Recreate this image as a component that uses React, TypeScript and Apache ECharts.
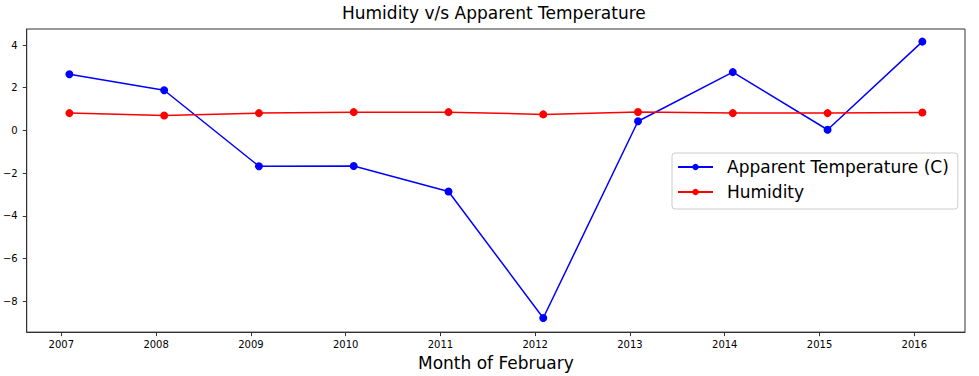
import React, { useEffect, useRef } from "react";
import * as echarts from "echarts";

const years = [2007, 2008, 2009, 2010, 2011, 2012, 2013, 2014, 2015, 2016];
const apparentTemp = [2.63, 1.88, -1.68, -1.67, -2.86, -8.79, 0.43, 2.73, 0.03, 4.16];
const humidity = [0.81, 0.7, 0.81, 0.855, 0.855, 0.75, 0.86, 0.81, 0.81, 0.84];
const xTicks = [2007, 2008, 2009, 2010, 2011, 2012, 2013, 2014, 2015, 2016];
const yTicks = [-8, -6, -4, -2, 0, 2, 4];

// points are the 1st of February of each year
const FEB_OFFSET = 31 / 365;

const FONT = "DejaVu Sans";

export default function App() {
  const ref = useRef<HTMLDivElement>(null);
  useEffect(() => {
    if (!ref.current) return;
    const chart = echarts.init(ref.current, undefined, { renderer: "svg" });
    const toPts = (vals: number[]) => years.map((y, i) => [y + FEB_OFFSET, vals[i]]);
    chart.setOption({
      animation: false,
      backgroundColor: "#ffffff",
      title: {
        text: "Humidity v/s Apparent Temperature",
        left: 342,
        top: 4,
        padding: 0,
        textStyle: { fontFamily: FONT, fontSize: 17, fontWeight: "normal", color: "#000" },
      },
      grid: {
        left: 25,
        right: 14,
        top: 29,
        bottom: 43,
        show: true,
        borderColor: "#333",
        borderWidth: 1,
        backgroundColor: "transparent",
      },
      legend: {
        orient: "vertical",
        left: 672,
        top: 153,
        padding: [4, 9, 7, 5],
        itemWidth: 35,
        itemHeight: 8,
        itemGap: 5,
        borderColor: "#cccccc",
        borderWidth: 1,
        borderRadius: 3,
        backgroundColor: "rgba(255,255,255,0.8)",
        textStyle: { fontFamily: FONT, fontSize: 17, color: "#000", lineHeight: 20, padding: [0, 0, 0, 9] },
        data: ["Apparent Temperature (C)", "Humidity"],
      },
      xAxis: {
        type: "value",
        min: 2006.635,
        max: 2016.535,
        name: "Month of February",
        nameLocation: "middle",
        nameGap: 20,
        nameTextStyle: { fontFamily: FONT, fontSize: 17, color: "#000" },
        axisLine: { show: true, onZero: false, lineStyle: { color: "#333", width: 1 } },
        axisTick: { show: true, inside: false, length: 4, customValues: xTicks, lineStyle: { color: "#333" } },
        axisLabel: {
          show: true,
          margin: 7,
          customValues: xTicks,
          fontFamily: FONT,
          fontSize: 10,
          color: "#000",
          formatter: (v: number) => String(v),
        },
        splitLine: { show: false },
      },
      yAxis: {
        type: "value",
        min: -9.45,
        max: 4.75,
        axisLine: { show: true, onZero: false, lineStyle: { color: "#333", width: 1 } },
        axisTick: { show: true, inside: false, length: 4, customValues: yTicks, lineStyle: { color: "#333" } },
        axisLabel: {
          show: true,
          margin: 9,
          customValues: yTicks,
          fontFamily: FONT,
          fontSize: 10,
          color: "#000",
          formatter: (v: number) => (v < 0 ? "\u2212" + Math.abs(v) : String(v)),
        },
        splitLine: { show: false },
      },
      series: [
        {
          name: "Apparent Temperature (C)",
          type: "line",
          data: toPts(apparentTemp),
          symbol: "circle",
          symbolSize: 8,
          showAllSymbol: true,
          color: "#0000ff",
          lineStyle: { color: "#0000ff", width: 1.5 },
          itemStyle: { color: "#0000ff" },
        },
        {
          name: "Humidity",
          type: "line",
          data: toPts(humidity),
          symbol: "circle",
          symbolSize: 8,
          showAllSymbol: true,
          color: "#ff0000",
          lineStyle: { color: "#ff0000", width: 1.5 },
          itemStyle: { color: "#ff0000" },
        },
      ],
    });
    return () => chart.dispose();
  }, []);
  return (
    <div
      ref={ref}
      style={{ position: "fixed", left: 0, top: 0, width: 979, height: 376, background: "#fff" }}
    />
  );
}
